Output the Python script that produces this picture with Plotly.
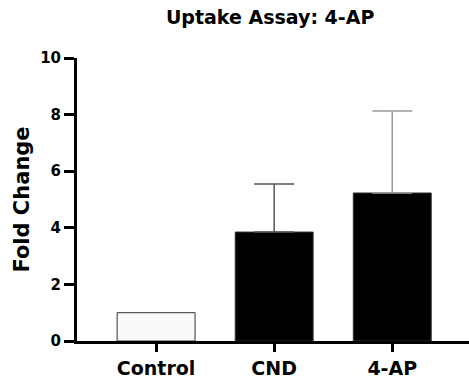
import plotly.graph_objects as go

categories = ["Control", "CND", "4-AP"]
fold_change = [1.0, 3.85, 5.23]
error_upper = [0.0, 1.70, 2.90]
fill_colors = ["#fafafa", "#000000", "#000000"]
error_colors = ["#555555", "#555555", "#9a9a9a"]

FONT = "DejaVu Sans"

fig = go.Figure()
for i, cat in enumerate(categories):
    fig.add_trace(go.Bar(
        x=[cat], y=[fold_change[i]],
        width=0.66,
        marker=dict(color=fill_colors[i], line=dict(color="#333333", width=1)),
        error_y=dict(type="data", symmetric=False, array=[error_upper[i]], arrayminus=[0],
                     visible=error_upper[i] > 0, color=error_colors[i], thickness=1.5, width=20),
        showlegend=False,
    ))

fig.update_layout(
    width=469, height=384,
    margin=dict(l=77, r=0, t=58, b=43),
    plot_bgcolor="white", paper_bgcolor="white",
    barmode="overlay",
    title=dict(text="<b>Uptake Assay: 4-AP</b>", x=0.576, xanchor="center", y=0.955, yanchor="middle",
               font=dict(family=FONT, size=19, color="black")),
    xaxis=dict(
        range=[-0.67, 2.65],
        showline=True, linecolor="black", linewidth=3,
        ticks="outside", ticklen=8, tickwidth=3, tickcolor="black",
        tickfont=dict(family=FONT, size=19, color="black", weight="bold"),
        showgrid=False, zeroline=False,
    ),
    yaxis=dict(
        range=[0, 10], tickvals=[0, 2, 4, 6, 8, 10],
        showline=True, linecolor="black", linewidth=3,
        ticks="outside", ticklen=10, tickwidth=3, tickcolor="black",
        tickfont=dict(family=FONT, size=15, color="black", weight="bold"),
        title=dict(text="<b>Fold Change</b>", font=dict(family=FONT, size=21, color="black"), standoff=5),
        showgrid=False, zeroline=False,
    ),
)

fig.write_html("out.html", config={"displayModeBar": False},
               post_script="document.body.style.margin='0';document.body.style.padding='0';")
